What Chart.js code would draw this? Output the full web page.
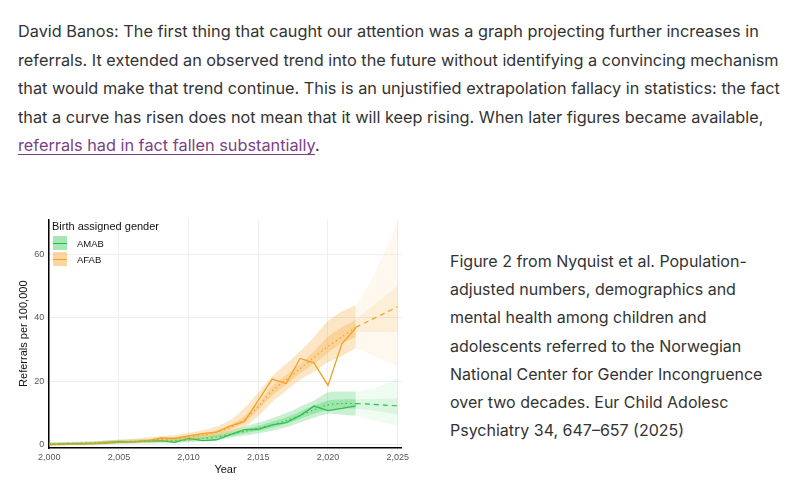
<!DOCTYPE html>
<html>
<head>
<meta charset="utf-8">
<script src="https://cdn.jsdelivr.net/npm/chart.js@4"></script>
<style>
  body { margin: 0; background: #fff; font-family: Inter, "Noto Sans", sans-serif; color: #333; }
  .txt { position: absolute; left: 18px; top: 17px; font-size: 16.3px; line-height: 28.5px; white-space: nowrap; }
  .txt a { color: #7b3f86; text-decoration: underline; text-underline-offset: 3px; }
  .cap { position: absolute; left: 450px; top: 247px; font-size: 16px; line-height: 28.2px; white-space: nowrap; }
  #wrap { position: absolute; left: 15px; top: 212px; width: 395px; height: 265px; }
  .legend { position: absolute; left: 52px; top: 220px; font-family: "Liberation Sans", Arial, sans-serif; font-size: 11px; color: #111; }
  .legend .row { display: flex; align-items: center; height: 16px; font-size: 9.5px; }
  .legend .key { width: 14px; height: 14px; margin: 1px 10px 1px 1px; position: relative; }
  .legend .key i { position: absolute; left: 0; right: 0; top: 6.5px; height: 1.2px; }
</style>
</head>
<body>
<div class="txt">David Banos: The first thing that caught our attention was a graph projecting further increases in<br>
referrals. It extended an observed trend into the future without identifying a convincing mechanism<br>
that would make that trend continue. This is an unjustified extrapolation fallacy in statistics: the fact<br>
that a curve has risen does not mean that it will keep rising. When later figures became available,<br>
<a>referrals had in fact fallen substantially</a>.</div>

<div id="wrap"><canvas id="c"></canvas></div>
<div class="legend">
  <div style="margin-bottom:3px">Birth assigned gender</div>
  <div class="row"><span class="key" style="background:rgba(60,200,90,0.45)"><i style="background:#22bb44"></i></span>AMAB</div>
  <div class="row"><span class="key" style="background:rgba(245,165,50,0.45)"><i style="background:#f0a020"></i></span>AFAB</div>
</div>

<div class="cap">Figure 2 from Nyquist et al. Population-<br>
adjusted numbers, demographics and<br>
mental health among children and<br>
adolescents referred to the Norwegian<br>
National Center for Gender Incongruence<br>
over two decades. Eur Child Adolesc<br>
Psychiatry 34, 647–657 (2025)</div>

<script>
const years = [2000,2001,2002,2003,2004,2005,2006,2007,2008,2009,2010,2011,2012,2013,2014,2015,2016,2017,2018,2019,2020,2021,2022];
const fcYears = [2022,2023,2024,2025];
const xTicks = [2000,2005,2010,2015,2020,2025];
const yTicks = [0,20,40,60];

const afabObs = [0,0.1,0.2,0.3,0.5,0.8,0.9,1.2,2.2,2.0,2.8,3.5,4.0,6.0,7.3,14,20.7,19.3,27.2,25.8,18.7,31.8,36.8];
const amabObs = [0.1,0.2,0.3,0.4,0.6,1.1,0.9,1.2,1.3,0.8,2.0,1.3,1.6,3.2,4.8,4.9,6.3,7.0,9.2,12.2,10.8,11.5,12.3];

const afabFit  = [0.2,0.3,0.4,0.5,0.7,0.9,1.1,1.4,1.7,2.0,2.5,3.1,4.0,5.5,8,12,17,20.5,24,27.5,31,34,37];
const afabLo50 = [0.1,0.2,0.3,0.4,0.5,0.7,0.8,1.1,1.4,1.6,2.1,2.7,3.4,4.8,7,11,15.5,19,22.5,25.5,29,32,34];
const afabHi50 = [0.3,0.4,0.5,0.7,0.9,1.1,1.3,1.7,2.1,2.4,3,3.6,4.6,6.3,9,13,18.5,22,25.5,29.5,34,37,39.5];
const afabLo95 = [0,0,0,0.1,0.2,0.4,0.5,0.7,0.9,1.1,1.5,2,2.6,3.8,5.5,9,13.5,17,20.5,23,26,28,30.5];
const afabHi95 = [0.6,0.7,0.8,1,1.3,1.6,1.9,2.3,2.7,3.1,3.8,4.6,5.8,7.8,11.5,16.5,21.5,25.5,29.5,34,39,42,44];
const afabFc     = [37,39.2,41.3,43.5];
const afabFcLo50 = [35.5,35.5,35.5,35.5];
const afabFcHi50 = [39.5,43,46.5,50];
const afabFcLo95 = [30.5,28.5,26.5,25];
const afabFcHi95 = [44,51,60,70];

const amabFit  = [0.3,0.4,0.5,0.6,0.8,0.9,1.0,1.1,1.2,1.3,1.6,2.0,2.5,3.3,4.2,5.2,6.3,7.6,9.3,11,12.6,13,13];
const amabLo50 = [0.1,0.2,0.3,0.4,0.5,0.6,0.7,0.8,0.9,1,1.2,1.6,2,2.8,3.6,4.4,5.4,6.6,8.2,9.8,11,11.4,11.4];
const amabHi50 = [0.5,0.6,0.7,0.8,1.1,1.2,1.3,1.4,1.5,1.6,2,2.4,3,3.9,4.9,6,7.3,8.7,10.5,12.4,14,14.3,14.3];
const amabLo95 = [0,0,0,0.1,0.2,0.3,0.4,0.4,0.5,0.6,0.8,1.1,1.5,2.2,2.9,3.6,4.4,5.5,7,8.5,9.8,9.5,9.2];
const amabHi95 = [0.8,0.9,1,1.1,1.4,1.6,1.7,1.8,2,2.1,2.5,3,3.6,4.6,5.7,7,8.4,10,12,14,16.5,16.8,16.8];
const amabFc     = [13,12.8,12.5,12.3];
const amabFcLo50 = [11.4,11,10.3,9.5];
const amabFcHi50 = [14.3,14.4,14.5,14.7];
const amabFcLo95 = [9.2,8,7,6];
const amabFcHi95 = [16.8,17.5,19,21];

const pts = (xs, ys) => xs.map((x, i) => ({x: x, y: ys[i]}));

function band(xs, lo, hi, color) {
  return [
    {data: pts(xs, lo), borderWidth: 0, pointRadius: 0, fill: false, tension: 0.3},
    {data: pts(xs, hi), borderWidth: 0, pointRadius: 0, fill: '-1', backgroundColor: color, tension: 0.3}
  ];
}
function line(xs, ys, color, dash, width) {
  return {data: pts(xs, ys), borderColor: color, borderWidth: width, borderDash: dash, pointRadius: 0, fill: false, tension: dash.length ? 0.3 : 0};
}

const green = '#22bb44', orange = '#f0a020';
const datasets = [
  ...band(years, afabLo95, afabHi95, 'rgba(245,165,50,0.28)'),
  ...band(years, afabLo50, afabHi50, 'rgba(245,165,50,0.3)'),
  ...band(fcYears, afabFcLo95, afabFcHi95, 'rgba(245,165,50,0.08)'),
  ...band(fcYears, afabFcLo50, afabFcHi50, 'rgba(245,165,50,0.12)'),
  ...band(years, amabLo95, amabHi95, 'rgba(60,200,90,0.28)'),
  ...band(years, amabLo50, amabHi50, 'rgba(60,200,90,0.3)'),
  ...band(fcYears, amabFcLo95, amabFcHi95, 'rgba(60,200,90,0.08)'),
  ...band(fcYears, amabFcLo50, amabFcHi50, 'rgba(60,200,90,0.12)'),
  line(years, afabFit, orange, [1.5, 3], 1.2),
  line(years, amabFit, green, [1.5, 3], 1.2),
  line(fcYears, afabFc, orange, [5, 4], 1.2),
  line(fcYears, amabFc, green, [5, 4], 1.2),
  line(years, afabObs, orange, [], 1.3),
  line(years, amabObs, green, [], 1.3)
];

new Chart(document.getElementById('c'), {
  type: 'line',
  data: {datasets: datasets},
  options: {
    responsive: true,
    maintainAspectRatio: false,
    animation: false,
    layout: {padding: {top: 2, right: 8}},
    plugins: {legend: {display: false}, tooltip: {enabled: false}},
    scales: {
      x: {
        type: 'linear', min: 2000, max: 2025.3,
        afterBuildTicks: s => { s.ticks = xTicks.map(v => ({value: v})); },
        ticks: {color: '#555', font: {size: 9, family: 'Liberation Sans'}, maxRotation: 0, padding: 1},
        grid: {color: '#eee', drawTicks: true, tickLength: 3},
        border: {color: '#000', width: 1.5},
        title: {display: true, text: 'Year', color: '#111', font: {size: 11, family: 'Liberation Sans'}, padding: 0}
      },
      y: {
        min: -1, max: 71,
        afterBuildTicks: s => { s.ticks = yTicks.map(v => ({value: v})); },
        ticks: {color: '#555', font: {size: 9, family: 'Liberation Sans'}, padding: 2},
        grid: {color: '#eee', tickLength: 3},
        border: {color: '#000', width: 1.5},
        title: {display: true, text: 'Referrals per 100,000', color: '#111', font: {size: 11, family: 'Liberation Sans'}, padding: 2}
      }
    }
  }
});
</script>
</body>
</html>
